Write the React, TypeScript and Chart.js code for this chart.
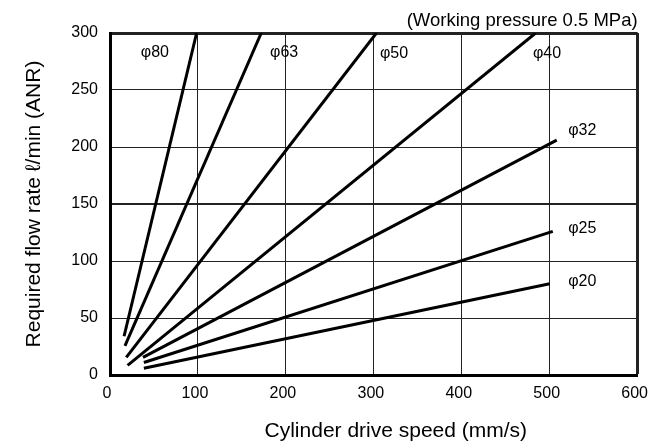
import React, { useEffect, useRef } from "react";
import { Chart, registerables } from "chart.js";

Chart.register(...registerables);

const bores = ["φ80", "φ63", "φ50", "φ40", "φ32", "φ25", "φ20"];
const startSpeed = [16, 17, 18.5, 20, 37.5, 38.5, 38.5];
const startFlow = [34, 25.5, 15.5, 8.5, 15.5, 11, 6];
const endSpeed = [98.5, 172, 303, 484, 508, 503.5, 500];
const endFlow = [300, 300, 300, 300, 206, 126, 80];
const labelSpeed = [51, 198, 323, 497, 537, 537, 537];
const labelFlow = [283, 283, 282, 282, 214, 128, 82];
const xTicks = [0, 100, 200, 300, 400, 500, 600];
const yTicks = [0, 50, 100, 150, 200, 250, 300];
const xTitle = "Cylinder drive speed (mm/s)";
const yTitle = "Required flow rate ℓ/min (ANR)";
const note = "(Working pressure 0.5 MPa)";

const FONT = '"Liberation Sans", Arial, sans-serif';

const labelsPlugin = {
  id: "boreLabels",
  afterDatasetsDraw(chart: any) {
    const { ctx, scales, chartArea } = chart;
    const x = scales.x;
    const y = scales.y;
    ctx.save();
    ctx.fillStyle = "#000";
    ctx.font = `16px ${FONT}`;
    ctx.textAlign = "center";
    ctx.textBaseline = "middle";
    bores.forEach((b, i) => {
      ctx.fillText(b, x.getPixelForValue(labelSpeed[i]), y.getPixelForValue(labelFlow[i]));
    });
    ctx.font = `18.5px ${FONT}`;
    ctx.textAlign = "right";
    ctx.fillText(note, chartArea.right, chartArea.top - 12);
    // x axis title
    ctx.font = `21px ${FONT}`;
    ctx.textAlign = "center";
    ctx.textBaseline = "alphabetic";
    ctx.fillText(xTitle, (chartArea.left + chartArea.right) / 2 + 22, chartArea.bottom + 62);
    ctx.restore();
  },
};

export default function App() {
  const ref = useRef<HTMLCanvasElement>(null);
  useEffect(() => {
    if (!ref.current) return;
    const chart = new Chart(ref.current, {
      type: "line",
      data: {
        datasets: bores.map((b, i) => ({
          label: b,
          data: [
            { x: startSpeed[i], y: startFlow[i] },
            { x: endSpeed[i], y: endFlow[i] },
          ],
          borderColor: "#000",
          borderWidth: 3,
          pointRadius: 0,
          fill: false,
          tension: 0,
        })),
      },
      options: {
        responsive: false,
        animation: false,
        devicePixelRatio: 1,
        layout: { padding: { top: 33, right: 21, left: 0, bottom: 0 } },
        plugins: {
          legend: { display: false },
          tooltip: { enabled: false },
        },
        scales: {
          x: {
            type: "linear",
            min: 0,
            max: 600,
            afterBuildTicks: (s: any) => {
              s.ticks = xTicks.map((v) => ({ value: v }));
            },
            afterFit: (s: any) => {
              s.height = 69;
            },
            grid: {
              color: "#222",
              lineWidth: (c: any) => (c.tick && c.tick.value === 600 ? 3 : 1),
              drawTicks: false,
            },
            border: { display: true, width: 3, color: "#000" },
            ticks: {
              color: "#000",
              font: { family: FONT, size: 16 },
              padding: 9,
              labelOffset: -3,
              maxRotation: 0,
            },
            title: { display: false },
          },
          y: {
            type: "linear",
            min: 0,
            max: 300,
            afterBuildTicks: (s: any) => {
              s.ticks = yTicks.map((v) => ({ value: v }));
            },
            afterFit: (s: any) => {
              s.width = 110;
            },
            grid: {
              color: "#222",
              lineWidth: (c: any) =>
                c.tick && c.tick.value === 300 ? 3 : c.tick && c.tick.value === 150 ? 2 : 1,
              drawTicks: false,
            },
            border: { display: true, width: 3, color: "#000" },
            ticks: {
              color: "#000",
              font: { family: FONT, size: 16 },
              padding: 12,
            },
            title: {
              display: true,
              text: yTitle,
              color: "#000",
              font: { family: FONT, size: 21 },
              padding: { top: 22, bottom: 0 },
            },
          },
        },
      },
      plugins: [labelsPlugin],
    });
    return () => chart.destroy();
  }, []);
  return (
    <div style={{ position: "absolute", left: 0, top: 0, width: 660, height: 444, background: "#fff" }}>
      <canvas ref={ref} width={660} height={444} />
    </div>
  );
}
